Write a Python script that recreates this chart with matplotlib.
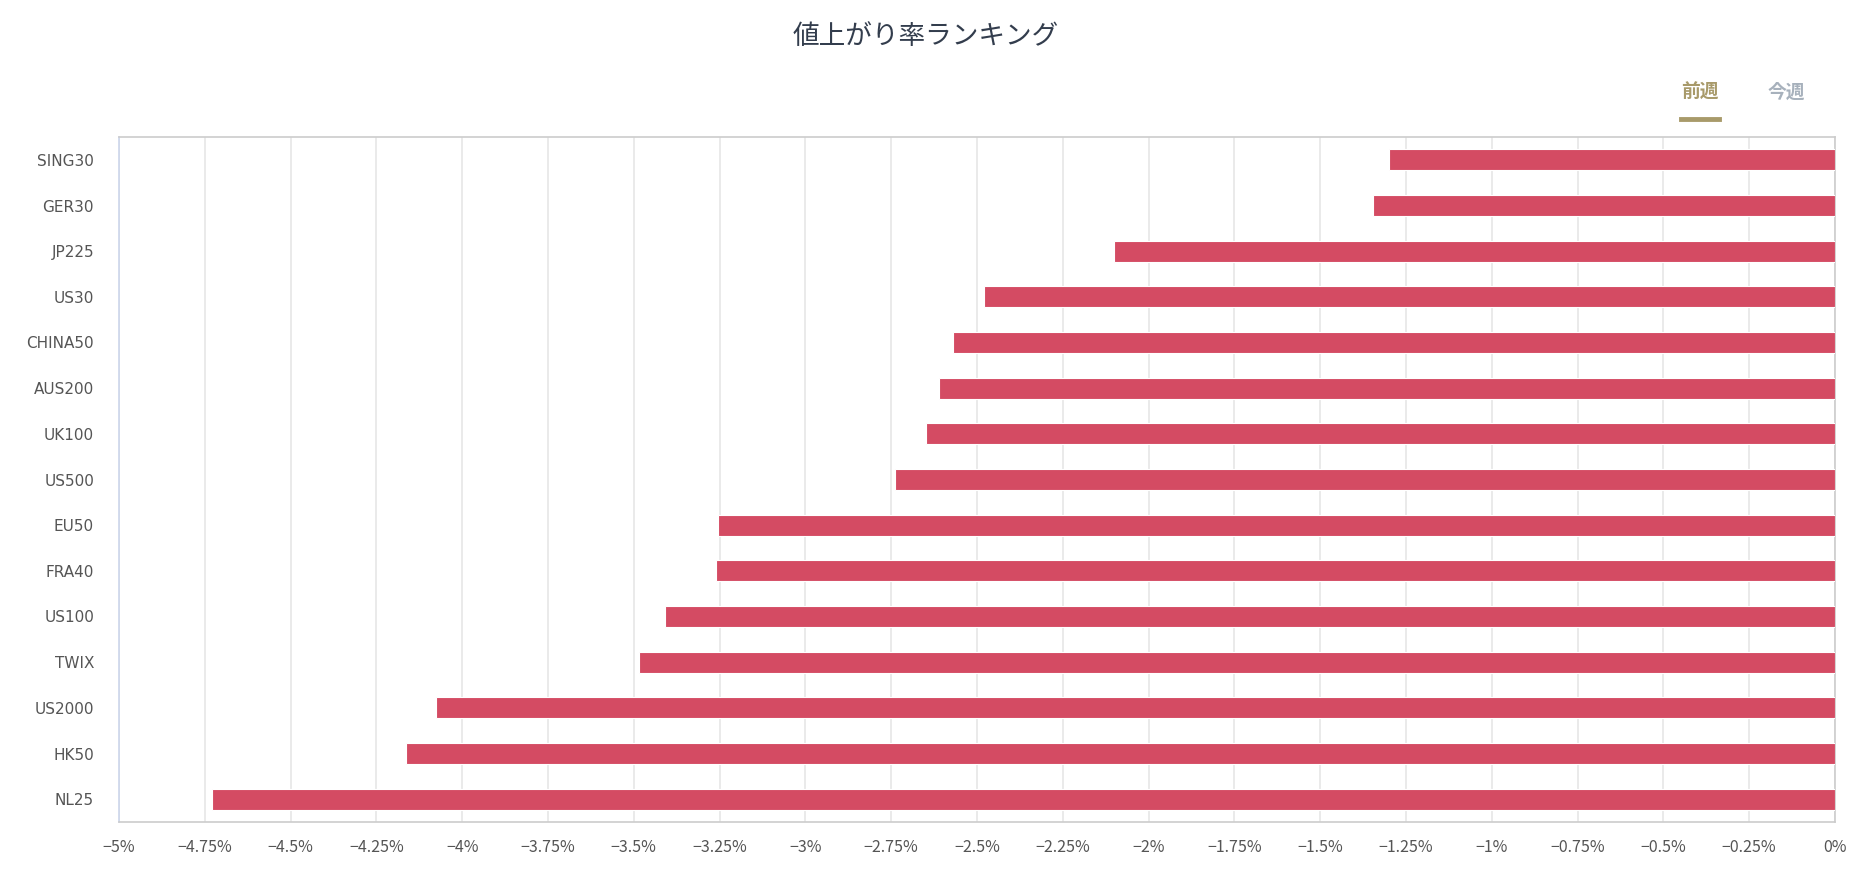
import matplotlib
matplotlib.use("Agg")
import matplotlib.pyplot as plt
from matplotlib.ticker import FixedLocator, FuncFormatter
import numpy as np

plt.rcParams['font.family'] = ['Noto Sans CJK JP', 'DejaVu Sans']

categories = ["SING30", "GER30", "JP225", "US30", "CHINA50", "AUS200", "UK100",
              "US500", "EU50", "FRA40", "US100", "TWIX", "US2000", "HK50", "NL25"]
values = [-1.30, -1.345, -2.10, -2.48, -2.57, -2.61, -2.65,
          -2.74, -3.255, -3.26, -3.41, -3.485, -4.075, -4.165, -4.73]
x_ticks = [-5, -4.75, -4.5, -4.25, -4, -3.75, -3.5, -3.25, -3, -2.75, -2.5,
           -2.25, -2, -1.75, -1.5, -1.25, -1, -0.75, -0.5, -0.25, 0]
title = "値上がり率ランキング"
legend_items = ["前週", "今週"]

fig = plt.figure(figsize=(18.6, 8.82), dpi=100)
ax = fig.add_axes([119/1860, 1-822/882, (1835-119)/1860, (822-137)/882])

y = np.arange(len(categories))
ax.barh(y, values, height=0.46, color="#d44b63", edgecolor="white", linewidth=0.8, zorder=3)
ax.set_ylim(len(categories) - 0.5, -0.5)
ax.set_xlim(-5, 0)
ax.set_yticks(y)
ax.set_yticklabels(categories, family=["DejaVu Sans"], fontsize=11)
ax.xaxis.set_major_locator(FixedLocator(x_ticks))

def fmt(v, pos):
    s = f"{v:g}"
    return s.replace("-", "\u2212") + "%"
ax.xaxis.set_major_formatter(FuncFormatter(fmt))

ax.grid(axis="x", color="#e6e6e6", linewidth=1.2, zorder=0)
ax.set_axisbelow(True)
for side in ["top", "right", "bottom"]:
    ax.spines[side].set_color("#cccccc")
    ax.spines[side].set_linewidth(1.2)
ax.spines["left"].set_color("#ccd6eb")
ax.spines["left"].set_linewidth(1.2)
ax.tick_params(axis="both", length=0, colors="#555555")
ax.tick_params(axis="x", labelsize=11.5, pad=12)
ax.tick_params(axis="y", pad=18)

fig.text(926/1860, 1-37/882, title, ha="center", va="center", fontsize=19.2, color="#333d4d")
fig.text(1700/1860, 1-92/882, legend_items[0], ha="center", va="center", fontsize=13.5,
         color="#a89a6a", fontweight="bold")
fig.text(1786/1860, 1-92/882, legend_items[1], ha="center", va="center", fontsize=13.5,
         color="#a7b1bc", fontweight="bold")
fig.add_artist(plt.Line2D([1681/1860, 1719/1860], [1-119/882, 1-119/882],
                          color="#a89a6a", linewidth=3.5, transform=fig.transFigure))

fig.savefig("out.png", dpi=100, facecolor="white")
